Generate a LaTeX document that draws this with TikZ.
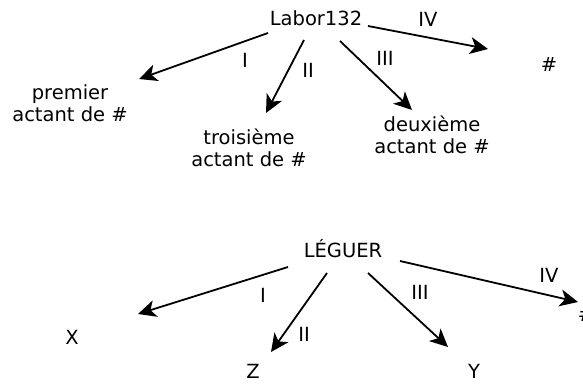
\documentclass[tikz,border=0pt]{standalone}
\usepackage{fontspec}
\setmainfont{DejaVu Sans}
\usetikzlibrary{arrows.meta}
\begin{document}
\begin{tikzpicture}[x=1pt,y=-1pt,
  txt/.style={inner sep=0pt,align=center,font=\fontsize{19.5}{22}\selectfont},
  lbl/.style={inner sep=0pt,font=\fontsize{19.5}{22}\selectfont},
  arr/.style={line width=1.8pt,-{Stealth[length=18pt,width=17pt,inset=5pt]}}]
\useasboundingbox (0,0) rectangle (583,383);
% top diagram
\node[txt] (labor) at (316,18) {Labor132};
\node[txt] (p1) at (70,103) {premier\\actant de \#};
\node[txt] (p3) at (249,148) {troisième\\actant de \#};
\node[txt] (p2) at (432,135) {deuxième\\actant de \#};
\node[txt] (ph) at (549,64) {\#};
\coordinate (a1s) at (268,33); \coordinate (a1e) at (139,79);
\coordinate (a2s) at (304,40); \coordinate (a2e) at (266,113);
\coordinate (a3s) at (340,41); \coordinate (a3e) at (412,110);
\coordinate (a4s) at (368,26); \coordinate (a4e) at (488,49);
\draw[arr] (a1s) -- (a1e);
\draw[arr] (a2s) -- (a2e);
\draw[arr] (a3s) -- (a3e);
\draw[arr] (a4s) -- (a4e);
\node[lbl] (l1) at (245,60) {I};
\node[lbl] (l2) at (308,70) {II};
\node[lbl] (l3) at (385,58) {III};
\node[lbl] (l4) at (428,19) {IV};
% bottom diagram
\node[txt] (leguer) at (343,249) {LÉGUER};
\node[txt] (x) at (72,337) {X};
\node[txt] (z) at (253,371) {Z};
\node[txt] (y) at (474,371) {Y};
\node[txt] (bh) at (586,314) {\#};
\coordinate (b1s) at (288,267); \coordinate (b1e) at (138,314);
\coordinate (b2s) at (327,273); \coordinate (b2e) at (271,352);
\coordinate (b3s) at (368,273); \coordinate (b3e) at (448,347);
\coordinate (b4s) at (400,261); \coordinate (b4e) at (578,302);
\draw[arr] (b1s) -- (b1e);
\draw[arr] (b2s) -- (b2e);
\draw[arr] (b3s) -- (b3e);
\draw[arr] (b4s) -- (b4e);
\node[lbl] (m1) at (263,295) {I};
\node[lbl] (m2) at (304,334) {II};
\node[lbl] (m3) at (420,292) {III};
\node[lbl] (m4) at (549,275) {IV};
\end{tikzpicture}
\end{document}
